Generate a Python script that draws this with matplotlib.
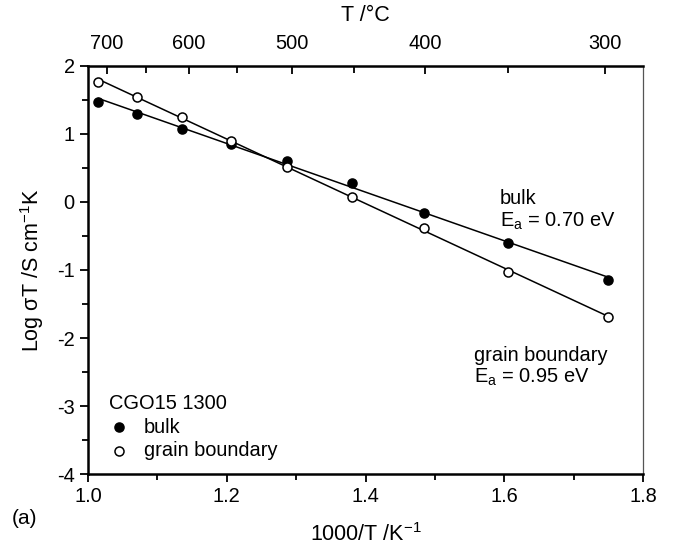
import numpy as np
import matplotlib
matplotlib.use("Agg")
import matplotlib.pyplot as plt
from matplotlib.ticker import MultipleLocator

plt.rcParams['font.family'] = ['Liberation Sans', 'DejaVu Sans']
plt.rcParams['mathtext.fontset'] = 'custom'
plt.rcParams['mathtext.rm'] = 'Liberation Sans'
plt.rcParams['mathtext.it'] = 'Liberation Sans'
plt.rcParams['axes.unicode_minus'] = False

# data: 1000/T (K^-1) and log(sigma T)
inv_t = [1.015, 1.071, 1.135, 1.206, 1.287, 1.380, 1.484, 1.606, 1.750]
bulk = [1.475, 1.30, 1.08, 0.853, 0.61, 0.285, -0.157, -0.61, -1.147]
grain = [1.77, 1.55, 1.245, 0.90, 0.52, 0.07, -0.38, -1.03, -1.69]

top_ticks = [700, 600, 500, 400, 300]
top_minor = [650, 550, 450, 350]

FS = 14.4


def c_to_inv(t):
    return 1000.0 / (np.asarray(t, dtype=float) + 273.15)


fig = plt.figure(figsize=(6.74, 5.49), dpi=100)
ax = fig.add_axes([0.1306, 0.1366, 0.8234, 0.7432])

x = np.array(inv_t)
for y, face in [(bulk, 'black'), (grain, 'white')]:
    k, b = np.polyfit(x, y, 1)
    xx = np.array([x.min(), x.max()])
    ax.plot(xx, k * xx + b, color='black', lw=1.1, zorder=2)
    ax.plot(x, y, 'o', ms=6.5, mfc=face, mec='black', mew=1.1, zorder=3)

ax.set_xlim(1.0, 1.8)
ax.set_ylim(-4, 2)
ax.xaxis.set_major_locator(MultipleLocator(0.2))
ax.xaxis.set_minor_locator(MultipleLocator(0.1))
ax.yaxis.set_major_locator(MultipleLocator(1))
ax.yaxis.set_minor_locator(MultipleLocator(0.5))
ax.tick_params(which='both', direction='out', width=1.3, labelsize=FS, top=False, right=False)
ax.tick_params(which='major', length=6)
ax.tick_params(which='minor', length=4)
ax.set_xticklabels([f'{v:.1f}' for v in ax.get_xticks()])
for side in ['left', 'bottom', 'top']:
    ax.spines[side].set_linewidth(1.8)
ax.spines['right'].set_linewidth(0.9)
ax.spines['right'].set_color('#555555')

ax.set_xlabel(r'1000/T /K$^{\mathregular{-1}}$', fontsize=15.5, labelpad=12)
ax.set_ylabel(r'Log $\mathregular{\sigma}$T /S cm$^{\mathregular{-1}}$K', fontsize=15.5, labelpad=8)

# top axis in degrees C
top = ax.twiny()
top.set_xlim(ax.get_xlim())
top.set_xticks(c_to_inv(top_ticks))
top.set_xticklabels([str(t) for t in top_ticks])
top.set_xticks(c_to_inv(top_minor), minor=True)
top.tick_params(which='both', direction='in', width=1.3, labelsize=FS, pad=9)
top.tick_params(which='major', length=6)
top.tick_params(which='minor', length=5)
top.set_xlabel('T /\u00b0C', fontsize=15.5, labelpad=10)
for s in top.spines.values():
    s.set_visible(False)

# annotations
ax.text(1.594, 0.05, 'bulk', fontsize=FS, va='center')
ax.text(1.594, -0.28, r'E$_\mathregular{a}$ = 0.70 eV', fontsize=FS, va='center')
ax.text(1.556, -2.25, 'grain boundary', fontsize=FS, va='center')
ax.text(1.556, -2.58, r'E$_\mathregular{a}$ = 0.95 eV', fontsize=FS, va='center')

# legend
ax.text(1.03, -2.96, 'CGO15 1300', fontsize=FS, va='center')
ax.plot([1.045], [-3.31], 'o', ms=6.5, mfc='black', mec='black', mew=1.1)
ax.text(1.08, -3.31, 'bulk', fontsize=FS, va='center')
ax.plot([1.045], [-3.66], 'o', ms=6.5, mfc='white', mec='black', mew=1.1)
ax.text(1.08, -3.66, 'grain boundary', fontsize=FS, va='center')

fig.text(0.018, 0.056, '(a)', fontsize=15, va='center')

fig.savefig('out.png', dpi=100)
